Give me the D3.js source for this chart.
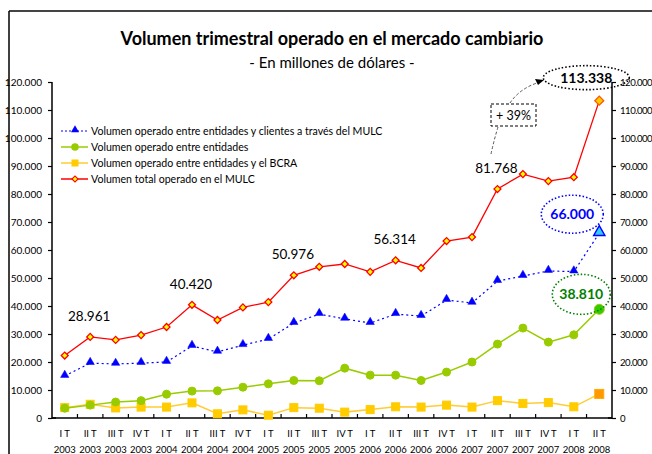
<!DOCTYPE html>
<html>
<head>
<meta charset="utf-8">
<script src="https://cdn.jsdelivr.net/npm/d3@7"></script>
<style>
  body { margin: 0; background: #fff; }
  svg { display: block; font-family: Lato, "Open Sans", sans-serif; }
</style>
</head>
<body>
<script>
const quarters = ["I T","II T","III T","IV T","I T","II T","III T","IV T","I T","II T","III T","IV T",
  "I T","II T","III T","IV T","I T","II T","III T","IV T","I T","II T"];
const years = ["2003","2003","2003","2003","2004","2004","2004","2004","2005","2005","2005","2005",
  "2006","2006","2006","2006","2007","2007","2007","2007","2008","2008"];
const clientes = [15000,19600,19300,19600,20000,25700,23600,26000,28200,33900,37100,35400,
  33900,37100,36400,42100,41100,48900,50700,52500,52300,66000];
const entidades = [3500,4600,5700,6200,8500,9600,9700,11000,12200,13400,13300,17800,
  15300,15300,13400,16400,20000,26400,32100,27100,29700,38810];
const bcra = [3700,4900,3600,3900,3900,5400,1500,2900,1000,3700,3500,2100,
  3000,4000,3900,4600,3900,6200,5200,5500,4000,8600];
const total = [22300,28961,27900,29600,32500,40420,35000,39500,41400,50976,54000,55000,
  52200,56314,53600,63200,64600,81768,87100,84600,86000,113338];
const yTicks = d3.range(0, 120001, 10000);
const labeled = [1, 5, 9, 13, 17];

const W = 652, H = 454;
const svg = d3.select("body").append("svg").attr("width", W).attr("height", H);

// frame
svg.append("line").attr("x1", 9).attr("x2", W).attr("y1", 11).attr("y2", 11)
  .attr("stroke", "#444").attr("stroke-width", 2);
svg.append("line").attr("x1", 9).attr("x2", 9).attr("y1", 11).attr("y2", H)
  .attr("stroke", "#000").attr("stroke-width", 1.5);

svg.append("text").attr("x", 332).attr("y", 45).attr("text-anchor", "middle")
  .attr("font-size", 18).attr("font-weight", "bold").text("Volumen trimestral operado en el mercado cambiario");
svg.append("text").attr("x", 332).attr("y", 68).attr("text-anchor", "middle")
  .attr("font-size", 15).text("- En millones de dólares -");

const x = d3.scaleBand().domain(d3.range(quarters.length)).range([52, 612]);
const y = d3.scaleLinear().domain([0, 120000]).range([418, 82]);
const cx = i => x(i) + x.bandwidth() / 2;
const fmt = d3.formatLocale({ decimal: ",", thousands: ".", grouping: [3] }).format(",d");

// axes
const yl = svg.append("g").attr("transform", "translate(52,0)")
  .call(d3.axisLeft(y).tickValues(yTicks).tickFormat(fmt).tickSize(4).tickPadding(6));
const yr = svg.append("g").attr("transform", "translate(612,0)")
  .call(d3.axisRight(y).tickValues(yTicks).tickFormat(fmt).tickSize(4).tickPadding(4));
[yl, yr].forEach(g => {
  g.selectAll(".tick line").attr("stroke-width", 1.2);
  g.selectAll("text").attr("font-size", 10).attr("fill", "#000").attr("font-family", "Lato, sans-serif");
});
yl.select(".domain").attr("stroke-width", 1.5).attr("d", "M0,82V418H4");
yr.select(".domain").attr("stroke-width", 1.5).attr("d", "M0,82V418H-4");
yr.selectAll("text").attr("font-size", 9.6).attr("letter-spacing", -0.5);

svg.append("line").attr("x1", 52).attr("x2", 612).attr("y1", 418).attr("y2", 418)
  .attr("stroke", "#000").attr("stroke-width", 1.5);
svg.selectAll(".xt").data(d3.range(1, quarters.length)).join("line")
  .attr("x1", i => x(i)).attr("x2", i => x(i)).attr("y1", 418).attr("y2", 414)
  .attr("stroke", "#000").attr("stroke-width", 1.2);
svg.selectAll(".xq").data(quarters).join("text")
  .attr("x", (d, i) => cx(i)).attr("y", 437).attr("text-anchor", "middle")
  .attr("font-size", 9.5).text(d => d);
svg.selectAll(".xy").data(years).join("text")
  .attr("x", (d, i) => cx(i)).attr("y", 453).attr("text-anchor", "middle")
  .attr("font-size", 9.5).text(d => d);

const line = d3.line().x((d, i) => cx(i)).y(d => y(d));
const last = quarters.length - 1;

// BCRA
svg.append("path").datum(bcra).attr("d", line).attr("fill", "none").attr("stroke", "#ffcc33").attr("stroke-width", 1.5);
svg.selectAll(".bq").data(bcra).join("rect")
  .attr("x", (d, i) => cx(i) - (i === last ? 4.5 : 4)).attr("y", (d, i) => y(d) - (i === last ? 4.5 : 4))
  .attr("width", (d, i) => i === last ? 9 : 8).attr("height", (d, i) => i === last ? 9 : 8)
  .attr("fill", (d, i) => i === last ? "#ff9900" : "#ffcc00")
  .attr("stroke", (d, i) => i === last ? "#ffaa00" : "#ffcc00");

// entidades
svg.append("path").datum(entidades).attr("d", line).attr("fill", "none").attr("stroke", "#99cc00").attr("stroke-width", 1.5);
svg.selectAll(".gc").data(entidades).join("circle")
  .attr("cx", (d, i) => cx(i)).attr("cy", d => y(d)).attr("r", (d, i) => i === last ? 5 : 4)
  .attr("fill", (d, i) => i === last ? "#33cc00" : "#99cc00")
  .attr("stroke", "#99cc00");

// clientes
svg.append("path").datum(clientes).attr("d", line).attr("fill", "none").attr("stroke", "#0000ff")
  .attr("stroke-width", 1.2).attr("stroke-dasharray", "2,3");
const tri = d3.symbol().type(d3.symbolTriangle);
svg.selectAll(".bt").data(clientes).join("path")
  .attr("transform", (d, i) => `translate(${cx(i)},${y(d) - 1})`)
  .attr("d", (d, i) => tri.size(i === last ? 55 : 30)())
  .attr("fill", (d, i) => i === last ? "#33ccff" : "#0000ff")
  .attr("stroke", "#0000ff").attr("stroke-width", (d, i) => i === last ? 1.4 : 0.5);

// total
svg.append("path").datum(total).attr("d", line).attr("fill", "none").attr("stroke", "#ff0000").attr("stroke-width", 1.3);
const dia = d3.symbol().type(d3.symbolSquare);
svg.selectAll(".rd").data(total).join("path")
  .attr("transform", (d, i) => `translate(${cx(i)},${y(d)}) rotate(45)`)
  .attr("d", (d, i) => dia.size(i === last ? 40 : 24)())
  .attr("fill", (d, i) => i === last ? "#ffcc00" : "#ffff00")
  .attr("stroke", (d, i) => i === last ? "#ff5500" : "#ff0000").attr("stroke-width", 1.3);

// value labels
svg.selectAll(".vl").data(labeled).join("text")
  .attr("x", i => cx(i) - 1).attr("y", i => y(total[i]) - 16).attr("text-anchor", "middle")
  .attr("font-size", 13.5).text(i => fmt(total[i]));

// callouts
function callout(cxp, cyp, rx, ry, color, val) {
  svg.append("ellipse").attr("cx", cxp).attr("cy", cyp).attr("rx", rx).attr("ry", ry)
    .attr("fill", "none").attr("stroke", color).attr("stroke-width", 1.6).attr("stroke-dasharray", "1.5,2");
  svg.append("text").attr("x", cxp).attr("y", cyp + 5).attr("text-anchor", "middle")
    .attr("font-size", 14).attr("font-weight", "bold").attr("fill", color).text(fmt(val));
}
callout(cx(last) - 13, y(total[last]) - 23, 43, 12, "#000", total[last]);
callout(cx(last) - 27, y(clientes[last]) - 19, 31, 19, "#0000ff", clientes[last]);
callout(cx(last) - 18, y(entidades[last]) - 15, 29, 20, "#008000", entidades[last]);

// +39% box
svg.append("rect").attr("x", 491).attr("y", 104).attr("width", 45).attr("height", 22)
  .attr("fill", "#fff").attr("stroke", "#000").attr("stroke-dasharray", "3,2");
svg.append("text").attr("x", 513.5).attr("y", 120).attr("text-anchor", "middle").attr("font-size", 12.5).text("+ 39%");
svg.append("path").attr("d", "M498,127 Q494,140 491,154").attr("fill", "none")
  .attr("stroke", "#555").attr("stroke-dasharray", "3,2");
svg.append("path").attr("d", "M510,103 Q520,88 540,82").attr("fill", "none")
  .attr("stroke", "#555").attr("stroke-dasharray", "3,2");
svg.append("path").attr("d", "M544,80 L535,79 L538,85 Z").attr("fill", "#000");

// legend
const legend = [
  { label: "Volumen operado entre entidades y clientes a través del MULC", color: "#0000ff", dash: "2,2", sym: "tri" },
  { label: "Volumen operado entre entidades", color: "#99cc00", sym: "circle" },
  { label: "Volumen operado entre entidades y el BCRA", color: "#ffcc33", sym: "square" },
  { label: "Volumen total operado en el MULC", color: "#ff0000", sym: "diamond" }
];
const lg = svg.append("g").attr("transform", "translate(61,131)");
legend.forEach((d, k) => {
  const g = lg.append("g").attr("transform", `translate(0,${k * 16})`);
  g.append("line").attr("x1", 0).attr("x2", 27).attr("stroke", d.color)
    .attr("stroke-width", d.sym === "tri" ? 1.2 : 1.5).attr("stroke-dasharray", d.dash || null);
  if (d.sym === "tri") g.append("path").attr("d", d3.symbol().type(d3.symbolTriangle).size(28)()).attr("transform", "translate(14,-1)").attr("fill", "#0000ff");
  if (d.sym === "circle") g.append("circle").attr("cx", 14).attr("r", 3.8).attr("fill", "#99cc00");
  if (d.sym === "square") g.append("rect").attr("x", 10.5).attr("y", -3.5).attr("width", 7).attr("height", 7).attr("fill", "#ffcc00");
  if (d.sym === "diamond") g.append("path").attr("d", d3.symbol().type(d3.symbolSquare).size(18)()).attr("transform", "translate(14,0) rotate(45)")
    .attr("fill", "#ffff00").attr("stroke", "#ff0000").attr("stroke-width", 1.2);
  g.append("text").attr("x", 30).attr("y", 4).attr("font-size", 10.6).text(d.label);
});
</script>
</body>
</html>
